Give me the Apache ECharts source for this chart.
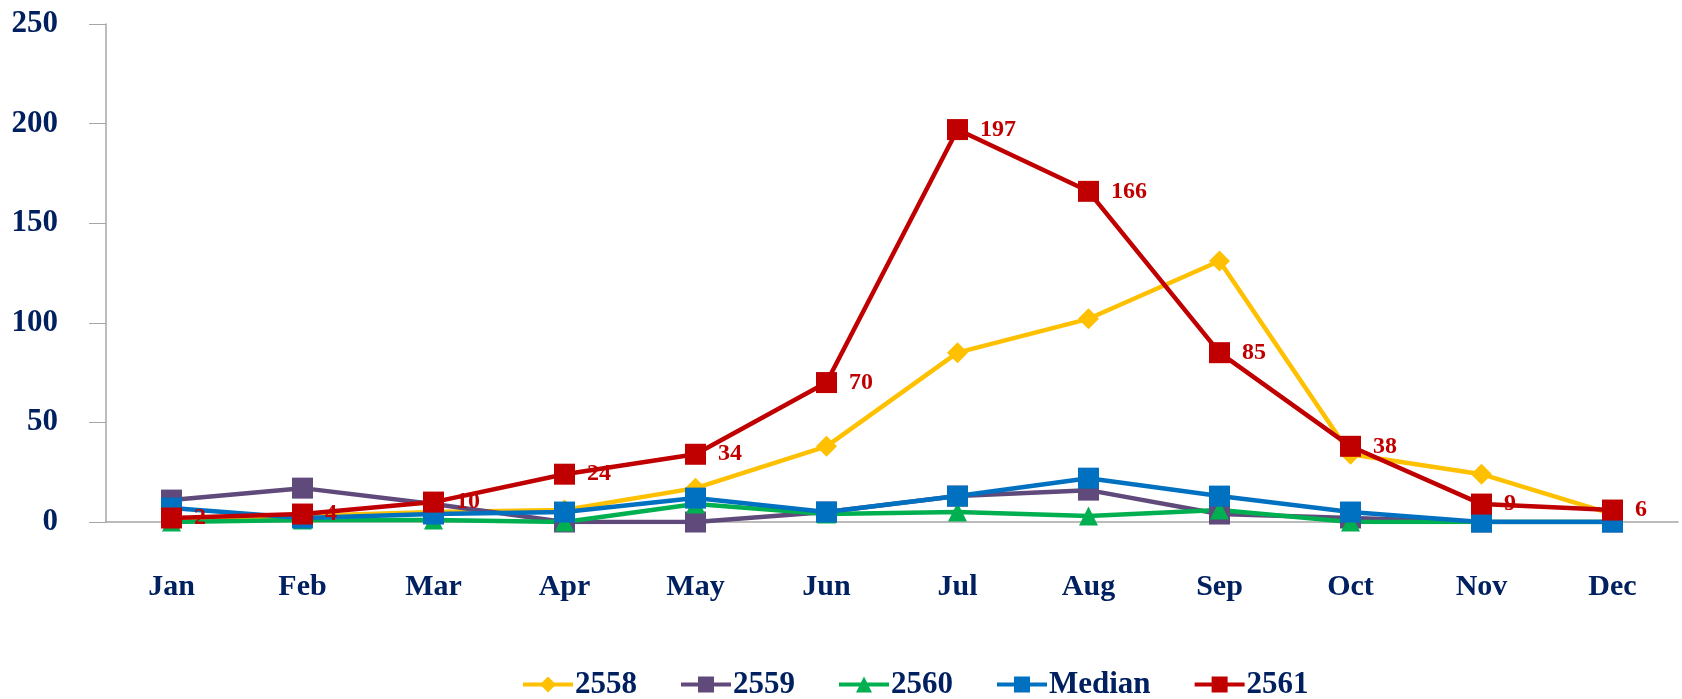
<!DOCTYPE html>
<html>
<head>
<meta charset="utf-8">
<script src="https://cdn.jsdelivr.net/npm/echarts@6/dist/echarts.min.js"></script>
<style>
	html, body { margin: 0; padding: 0; background: #fff; }
	#main { width: 1682px; height: 699px; }
</style>
</head>
<body>
<div id="main"></div>
<script>
// 月份
var months = ['Jan', 'Feb', 'Mar', 'Apr', 'May', 'Jun', 'Jul', 'Aug', 'Sep', 'Oct', 'Nov', 'Dec'];
// 各年数据
var y2558 = [1, 3, 5, 6, 17, 38, 85, 102, 131, 34, 24, 4];
var y2559 = [11, 17, 9, 0, 0, 5, 13, 16, 4, 2, 0, 0];
var y2560 = [0, 1, 1, 0, 9, 4, 5, 3, 6, 0, 0, 0];
var median = [7, 2, 4, 5, 12, 5, 13, 22, 13, 5, 0, 0];
var y2561 = [2, 4, 10, 24, 34, 70, 197, 166, 85, 38, 9, 6];
var yTicks = [0, 50, 100, 150, 200, 250];

var navy = '#002060';
var font = '"Liberation Serif", "Times New Roman", serif';

function makeSeries(name, data, color, symbol, size) {
	return {
		name: name,
		type: 'line',
		data: data,
		symbol: symbol,
		symbolSize: size,
		lineStyle: { color: color, width: 4.5 },
		itemStyle: { color: color },
		animation: false
	};
}

var red = makeSeries('2561', y2561, '#C00000', 'rect', 21);
red.label = {
	show: true,
	position: 'right',
	distance: 12,
	color: '#C00000',
	fontFamily: font,
	fontWeight: 'bold',
	fontSize: 24
};

var option = {
	backgroundColor: '#fff',
	grid: { left: 106, right: 4, top: 24, bottom: 177 },
	legend: {
		left: 516,
		top: 664,
		itemWidth: 50,
		itemHeight: 20,
		itemGap: 42,
		lineStyle: { width: 4 },
		textStyle: { color: navy, fontFamily: font, fontWeight: 'bold', fontSize: 31, padding: [0, 0, 0, -3] },
		data: ['2558', '2559', '2560', 'Median', '2561']
	},
	xAxis: {
		type: 'category',
		data: months,
		boundaryGap: true,
		axisLine: { lineStyle: { color: '#A6A6A6', width: 1.5 } },
		axisTick: { alignWithLabel: true, length: 8, lineStyle: { color: '#A6A6A6' } },
		axisLabel: { color: navy, fontFamily: font, fontWeight: 'bold', fontSize: 30, margin: 50 }
	},
	yAxis: {
		type: 'value',
		min: yTicks[0],
		max: yTicks[yTicks.length - 1],
		interval: 50,
		splitLine: { show: false },
		axisLine: { show: true, lineStyle: { color: '#A6A6A6', width: 1.5 } },
		axisTick: { show: true, length: 17, lineStyle: { color: '#A6A6A6' } },
		axisLabel: { color: navy, fontFamily: font, fontWeight: 'bold', fontSize: 31, margin: 48 }
	},
	series: [
		makeSeries('2558', y2558, '#FFC000', 'diamond', 21),
		makeSeries('2559', y2559, '#604A7B', 'rect', 21),
		makeSeries('2560', y2560, '#00B050', 'triangle', 19),
		makeSeries('Median', median, '#0070C0', 'rect', 21),
		red
	]
};

var myChart = echarts.init(document.getElementById('main'));
myChart.setOption(option);
</script>
</body>
</html>
